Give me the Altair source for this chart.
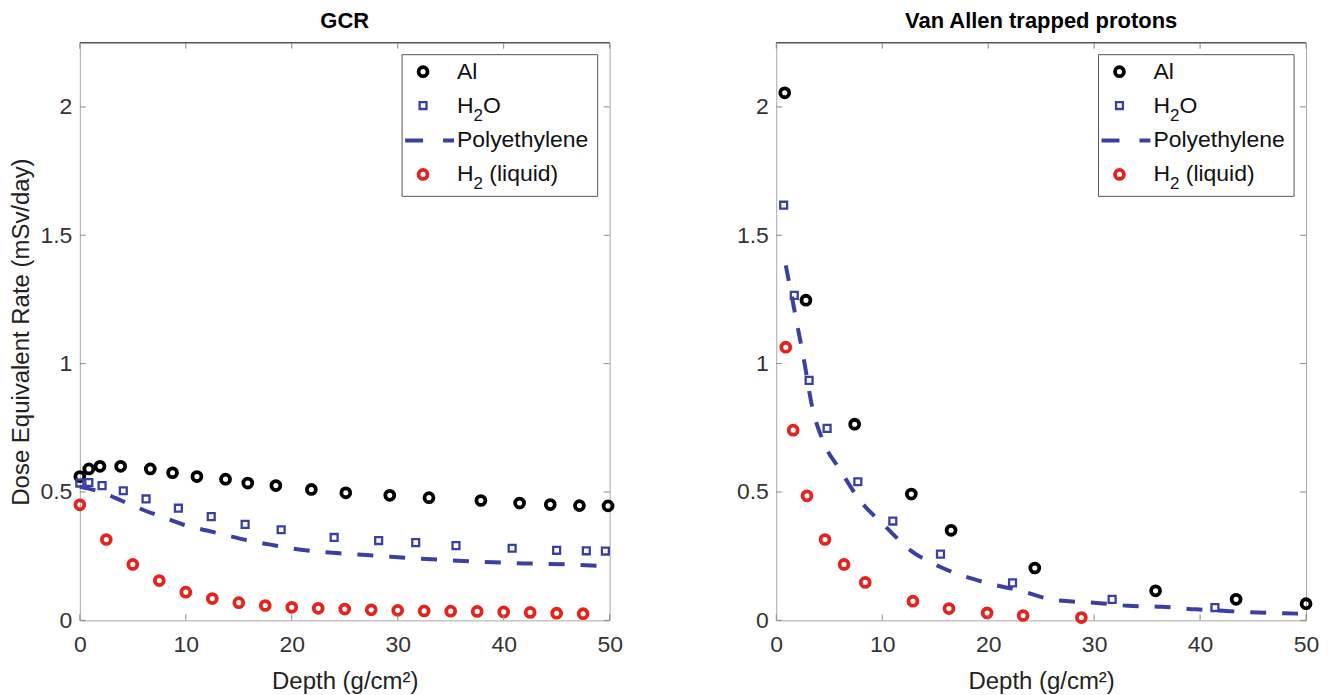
import altair as alt
import pandas as pd

# ---------------- data ----------------
# GCR panel
gcr_al_depth = [0, 0.85, 1.9, 3.85, 6.65, 8.75, 11.05, 13.75, 15.85, 18.5, 21.85, 25.1, 29.25, 32.95, 37.85, 41.5, 44.4, 47.15, 49.85]
gcr_al_dose = [0.56, 0.59, 0.60, 0.60, 0.59, 0.575, 0.56, 0.55, 0.535, 0.525, 0.51, 0.497, 0.487, 0.478, 0.467, 0.457, 0.451, 0.447, 0.446]

gcr_h2o_depth = [0, 0.85, 2.1, 4.1, 6.25, 9.3, 12.4, 15.6, 19.0, 24.0, 28.2, 31.7, 35.5, 40.8, 45.0, 47.8, 49.6]
gcr_h2o_dose = [0.535, 0.537, 0.525, 0.505, 0.473, 0.437, 0.404, 0.374, 0.353, 0.323, 0.311, 0.303, 0.291, 0.281, 0.273, 0.271, 0.27]

gcr_poly_depth = [0, 2, 4, 6, 8, 10, 12, 14, 16, 18, 20, 22, 25, 28, 31, 35, 38, 42, 46, 50]
gcr_poly_dose = [0.52, 0.50, 0.465, 0.43, 0.40, 0.37, 0.35, 0.33, 0.31, 0.295, 0.28, 0.27, 0.26, 0.252, 0.243, 0.234, 0.228, 0.222, 0.218, 0.21]

gcr_h2_depth = [0, 2.5, 5, 7.5, 10, 12.5, 15, 17.5, 20, 22.5, 25, 27.5, 30, 32.5, 35, 37.5, 40, 42.5, 45, 47.5]
gcr_h2_dose = [0.45, 0.315, 0.218, 0.155, 0.11, 0.085, 0.069, 0.058, 0.051, 0.047, 0.044, 0.041, 0.039, 0.037, 0.036, 0.035, 0.033, 0.031, 0.028, 0.026]

# Van Allen trapped protons panel
va_al_depth = [0.8, 2.8, 7.4, 12.75, 16.5, 24.4, 35.8, 43.4, 50]
va_al_dose = [2.055, 1.247, 0.764, 0.492, 0.351, 0.204, 0.115, 0.082, 0.065]

va_h2o_depth = [0.7, 1.7, 3.1, 4.8, 7.7, 11.0, 15.5, 22.3, 31.7, 41.4]
va_h2o_dose = [1.617, 1.266, 0.935, 0.748, 0.54, 0.387, 0.258, 0.146, 0.082, 0.05]

va_poly_depth = [0.9, 1.8, 2.6, 3.4, 4.4, 6.0, 7.8, 10.3, 12.7, 15.5, 19.5, 23.1, 26.3, 30, 33.2, 36.4, 39.6, 42.8, 46.5, 49.7]
va_poly_dose = [1.383, 1.19, 1.018, 0.83, 0.70, 0.588, 0.473, 0.366, 0.272, 0.208, 0.15, 0.115, 0.079, 0.069, 0.057, 0.053, 0.043, 0.036, 0.029, 0.026]

va_h2_depth = [0.9, 1.6, 2.9, 4.6, 6.4, 8.4, 12.9, 16.3, 19.9, 23.3, 28.8]
va_h2_dose = [1.064, 0.741, 0.485, 0.315, 0.218, 0.148, 0.075, 0.046, 0.029, 0.019, 0.011]

x_ticks = [0, 10, 20, 30, 40, 50]
y_ticks = [0, 0.5, 1, 1.5, 2]
# legend texts, split where a subscript "2" is drawn lower and smaller
legend_main = ["Al", "H", "Polyethylene", "H"]
legend_sub = ["", "2", "", "2"]
legend_tail = ["", "O", "", "(liquid)"]
legend_tail_gap = [0, 0, 0, 1]  # 1 = a word space before the tail
panel_titles = ["GCR", "Van Allen trapped protons"]
x_title = "Depth (g/cm\u00b2)"
y_title = "Dose Equivalent Rate (mSv/day)"

# ---------------- styling ----------------
FONT = "Liberation Sans"
W, H = 531, 579
BLUE = "#3b3fa3"
RED = "#e5231d"
BLACK = "#000000"
FRAME = "#a8a8a8"
TICK = "#8a8a8a"
LEG_FS = 23
SUB_FS = 17

xscale = alt.Scale(domain=[0, 50], nice=False, zero=False)
yscale = alt.Scale(domain=[0, 2.25], nice=False)


def df(x, y):
    return pd.DataFrame({"depth": x, "dose": y})


def text_mark(txt, x, y, fs, dy=0):
    return alt.Chart(pd.DataFrame({"label": [txt]})).mark_text(
        align="left", baseline="middle", font=FONT, fontSize=fs, color="#111111", dy=dy
    ).encode(x=alt.value(x), y=alt.value(y), text="label:N")


def panel(title, al, h2o, poly, h2, show_ytitle):
    x_axis = alt.Axis(values=x_ticks, title=x_title, labelPadding=13, titlePadding=13,
                      labelFlush=False)
    y_kwargs = dict(values=y_ticks, labelExpr="'' + datum.value", labelPadding=8)
    if show_ytitle:
        y_kwargs.update(title=y_title, titlePadding=6)
    else:
        y_kwargs.update(title="")
    y_axis = alt.Axis(**y_kwargs)

    X = alt.X("depth:Q", scale=xscale, axis=x_axis)
    Y = alt.Y("dose:Q", scale=yscale, axis=y_axis)

    al_layer = alt.Chart(df(*al)).mark_point(
        shape="circle", filled=False, color=BLACK, strokeWidth=3.8, size=80, opacity=1
    ).encode(x=X, y=Y)
    h2o_layer = alt.Chart(df(*h2o)).mark_point(
        shape="square", filled=False, color=BLUE, strokeWidth=2.3, size=48, opacity=1
    ).encode(x=X, y=Y)
    poly_layer = alt.Chart(df(*poly)).mark_line(
        color=BLUE, strokeWidth=4, strokeDash=[16, 16], interpolate="monotone"
    ).encode(x=X, y=Y)
    h2_layer = alt.Chart(df(*h2)).mark_point(
        shape="circle", filled=False, color=RED, strokeWidth=3.8, size=80, opacity=1
    ).encode(x=X, y=Y)

    # inward ticks on all four sides (MATLAB style)
    xt = pd.DataFrame({"depth": x_ticks})
    yt = pd.DataFrame({"dose": y_ticks})
    tb = alt.Chart(xt).mark_rule(color=TICK, strokeWidth=1).encode(
        x=X, y=alt.value(H), y2=alt.value(H - 6))
    tt = alt.Chart(xt).mark_rule(color=TICK, strokeWidth=1).encode(
        x=X, y=alt.value(0), y2=alt.value(6))
    tl = alt.Chart(yt).mark_rule(color=TICK, strokeWidth=1).encode(
        y=Y, x=alt.value(0), x2=alt.value(6))
    tr = alt.Chart(yt).mark_rule(color=TICK, strokeWidth=1).encode(
        y=Y, x=alt.value(W), x2=alt.value(W - 6))
    one = pd.DataFrame({"k": [0]})
    top_line = alt.Chart(one).mark_rule(color="#555555", strokeWidth=1.2).encode(
        x=alt.value(0), x2=alt.value(W), y=alt.value(0))

    # legend box
    lx0, lx1, ly0, ly1 = 323, 519, 12, 154
    rows = [29, 63, 98, 132]
    sym_x, txt_x = 344, 378
    box = alt.Chart(one).mark_rect(fill="white", stroke="#555555", strokeWidth=1).encode(
        x=alt.value(lx0), x2=alt.value(lx1), y=alt.value(ly0), y2=alt.value(ly1))
    leg = [box]
    leg.append(alt.Chart(one).mark_point(shape="circle", filled=False, color=BLACK,
                                         strokeWidth=3.8, size=80, opacity=1).encode(
        x=alt.value(sym_x), y=alt.value(rows[0])))
    leg.append(alt.Chart(one).mark_point(shape="square", filled=False, color=BLUE,
                                         strokeWidth=2.3, size=48, opacity=1).encode(
        x=alt.value(sym_x), y=alt.value(rows[1])))
    leg.append(alt.Chart(one).mark_rule(color=BLUE, strokeWidth=4, strokeDash=[18, 20]).encode(
        x=alt.value(326), x2=alt.value(375), y=alt.value(rows[2])))
    leg.append(alt.Chart(one).mark_point(shape="circle", filled=False, color=RED,
                                         strokeWidth=3.8, size=80, opacity=1).encode(
        x=alt.value(sym_x), y=alt.value(rows[3])))
    h_w = 0.722 * LEG_FS
    sub_w = 0.556 * SUB_FS
    space_w = 0.278 * LEG_FS
    for main, sub, tail, gap, ry in zip(legend_main, legend_sub, legend_tail,
                                        legend_tail_gap, rows):
        leg.append(text_mark(main, txt_x, ry, LEG_FS))
        if sub:
            leg.append(text_mark(sub, txt_x + h_w, ry, SUB_FS, dy=10))
            leg.append(text_mark(tail, txt_x + h_w + sub_w + gap * space_w, ry, LEG_FS))

    layers = [al_layer, h2o_layer, poly_layer, h2_layer, tb, tt, tl, tr, top_line] + leg
    return alt.layer(*layers).properties(
        width=W, height=H, title=alt.TitleParams(text=title)
    )


left = panel(panel_titles[0],
             (gcr_al_depth, gcr_al_dose), (gcr_h2o_depth, gcr_h2o_dose),
             (gcr_poly_depth, gcr_poly_dose), (gcr_h2_depth, gcr_h2_dose), True)
right = panel(panel_titles[1],
              (va_al_depth, va_al_dose), (va_h2o_depth, va_h2o_dose),
              (va_poly_depth, va_poly_dose), (va_h2_depth, va_h2_dose), False)

chart = alt.hconcat(left, right, spacing=167, bounds="flush").properties(
    padding={"left": 1, "top": 0, "right": 5, "bottom": 0}
).configure_view(
    stroke=FRAME, strokeWidth=1
).configure_axis(
    labelFont=FONT, labelFontSize=23, labelColor="#333333",
    titleFont=FONT, titleFontSize=24, titleFontWeight="normal", titleColor="#222222",
    ticks=False, domain=False, grid=False
).configure_title(
    font=FONT, fontSize=22, fontWeight="bold", color="#000000", anchor="middle", offset=9
)

chart.save("out.html", embed_options={"renderer": "svg", "actions": False})
